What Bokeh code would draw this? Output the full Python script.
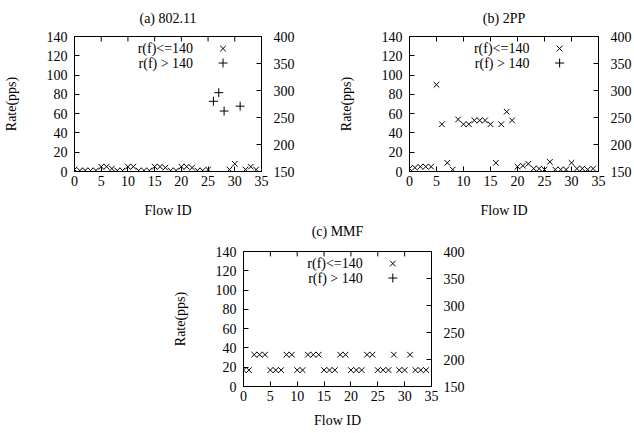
from bokeh.plotting import figure
from bokeh.models import Range1d, LinearAxis, Label, Spacer, FixedTicker, Title
from bokeh.layouts import column, row
from bokeh.embed import file_html
from bokeh.resources import INLINE

# ---------------- data ----------------
a_low_x = [0, 1, 2, 3, 4, 5, 6, 7, 8, 9, 10, 11, 12, 13, 14, 15, 16, 17, 18, 19,
           20, 21, 22, 23, 24, 25, 29, 30, 32, 33, 34]
a_low_y = [2, 1, 1, 1, 1, 5, 5, 3, 1, 1, 5, 5, 1, 1, 1, 5, 5, 4, 1, 1,
           5, 5, 4, 1, 1, 2, 2, 8, 2, 5, 2]
a_high_x = [26, 27, 28, 31]
a_high_y = [280, 296, 262, 271]          # on right axis (150-400)

b_low_x = list(range(35))
b_low_y = [3, 4, 5, 5, 5, 90, 49, 9, 2, 54, 49, 49, 53, 53, 53, 49, 9, 49, 62, 53,
           5, 6, 8, 3, 3, 2, 10, 2, 2, 2, 9, 3, 3, 2, 3]
b_high_x = []
b_high_y = []

c_low_x = [2, 3, 4, 8, 9, 12, 13, 14, 18, 19, 23, 24, 28, 31,
           0, 1, 5, 6, 7, 10, 11, 15, 16, 17, 20, 21, 22, 25, 26, 27, 29, 30, 32, 33, 34]
c_low_y = [33] * 14 + [17] * 21
c_high_x = []
c_high_y = []

titles = ["(a) 802.11", "(b) 2PP", "(c) MMF"]
legend_labels = ["r(f)<=140", "r(f) > 140"]
x_label = "Flow ID"
y_label = "Rate(pps)"
x_ticks = [0, 5, 10, 15, 20, 25, 30, 35]
y_ticks = [0, 20, 40, 60, 80, 100, 120, 140]
y2_ticks = [150, 200, 250, 300, 350, 400]

FONT = "Liberation Serif"
FS = "14px"
TICK = 5


def style(ax, standoff):
    ax.major_tick_in = TICK
    ax.major_tick_out = 0
    ax.minor_tick_line_color = None
    ax.axis_line_color = "black"
    ax.major_tick_line_color = "black"
    ax.major_label_text_font = FONT
    ax.major_label_text_font_size = FS
    ax.major_label_text_color = "black"
    ax.major_label_standoff = standoff
    ax.axis_label_text_font = FONT
    ax.axis_label_text_font_size = FS
    ax.axis_label_text_font_style = "normal"
    ax.axis_label_text_color = "black"


def panel(title, lx, ly, hx, hy, width, height, bl, br, bt, bb,
          title_mode, title_off, title_standoff, xlab_gap):
    frame_h = height - bt - bb
    p = figure(width=width, height=height, output_backend="svg", toolbar_location=None,
               title=None,
               x_range=Range1d(0, 35), y_range=Range1d(0, 140),
               min_border_left=bl, min_border_right=br, min_border_top=bt, min_border_bottom=bb,
               background_fill_color="white", border_fill_color="white")
    p.extra_y_ranges = {"y2": Range1d(150, 400)}
    p.grid.visible = False
    p.outline_line_color = "black"
    p.outline_line_width = 1
    p.outline_line_alpha = 1

    xa = p.xaxis[0]
    xa.ticker = FixedTicker(ticks=x_ticks)
    style(xa, 4)
    xa.axis_label = x_label
    xa.axis_label_standoff = xlab_gap

    ya = p.yaxis[0]
    ya.ticker = FixedTicker(ticks=y_ticks)
    style(ya, 7)
    ya.axis_label = y_label
    ya.axis_label_standoff = 25

    y2 = LinearAxis(y_range_name="y2", ticker=FixedTicker(ticks=y2_ticks))
    style(y2, 12)
    p.add_layout(y2, "right")

    if title_mode == "title":
        p.add_layout(Title(text=title, align="center", offset=title_off, vertical_align="top",
                           standoff=title_standoff, text_font=FONT, text_font_size=FS,
                           text_font_style="normal", text_color="black"), "above")
    else:
        top = LinearAxis(ticker=FixedTicker(ticks=[]), axis_label=title)
        style(top, 0)
        top.axis_line_color = None
        top.axis_label_standoff = title_standoff
        p.add_layout(top, "above")

    # mirrored x ticks on the top border (gnuplot style)
    inner = [t for t in x_ticks if 0 < t < 35]
    tick_len = TICK * 140.0 / frame_h
    p.segment(x0=inner, y0=[140] * len(inner), x1=inner, y1=[140 - tick_len] * len(inner),
              line_color="black", line_width=1)

    p.scatter(lx, ly, marker="x", size=8, line_color="black", line_width=1)
    if hx:
        p.scatter(hx, hy, marker="cross", size=9, line_color="black", line_width=1,
                  y_range_name="y2")

    # key (gnuplot style: text right-aligned, sample on the right)
    key_text_x = 22.2
    key_sample_x = 27.8
    key_rows = [127.5, 112.5]
    for lab, yy in zip(legend_labels, key_rows):
        p.add_layout(Label(x=key_text_x, y=yy, text=lab, text_align="right",
                           text_baseline="middle", text_font=FONT, text_font_size=FS,
                           text_color="black"))
    p.scatter([key_sample_x], [key_rows[0]], marker="x", size=8, line_color="black", line_width=1)
    p.scatter([key_sample_x], [key_rows[1]], marker="cross", size=9, line_color="black", line_width=1)
    return p


p1 = panel(titles[0], a_low_x, a_low_y, a_high_x, a_high_y, 335, 220, 74, 74, 36, 48,
           "title", -19, 17, 14)
p2 = panel(titles[1], b_low_x, b_low_y, b_high_x, b_high_y, 299, 220, 74, 36, 36, 48,
           "title", -17, 17, 14)
p3 = panel(titles[2], c_low_x, c_low_y, c_high_x, c_high_y, 298, 213, 74, 36, 29, 47,
           "axis", 0, 13, 9)

layout = column(row(p1, p2), row(Spacer(width=169, height=213), p3))

open("out.html", "w").write(file_html(layout, INLINE))
